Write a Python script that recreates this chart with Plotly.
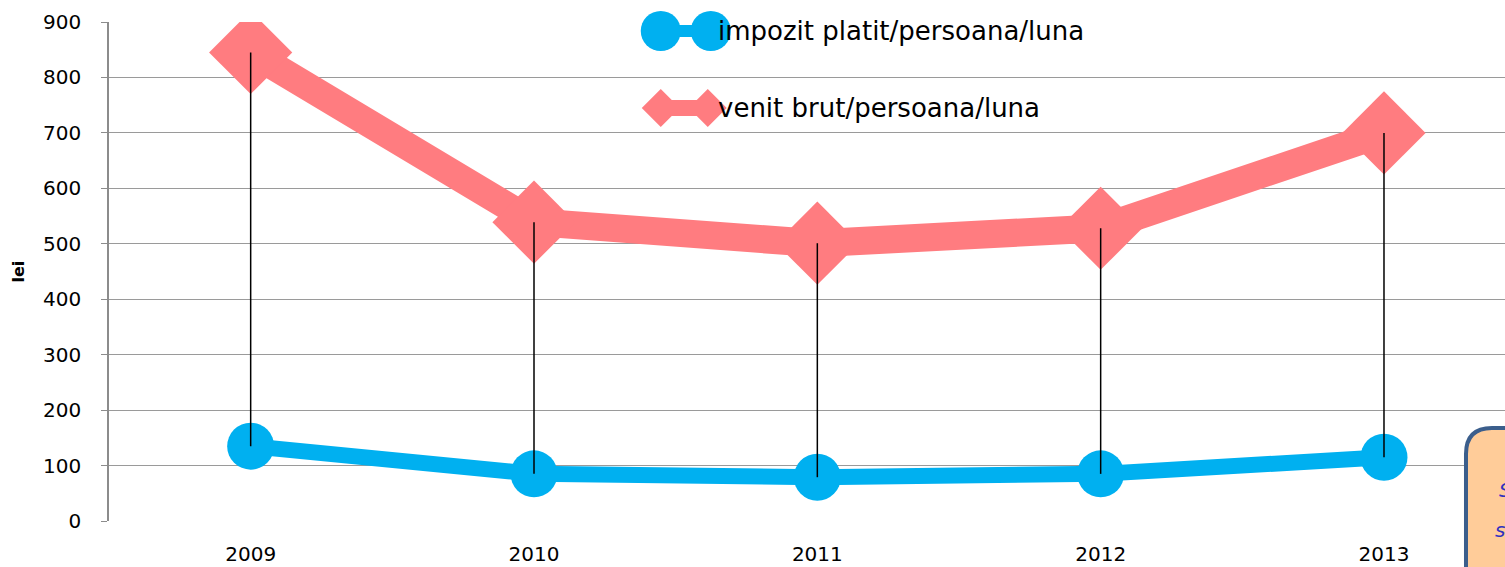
import plotly.graph_objects as go

years = ["2009", "2010", "2011", "2012", "2013"]
impozit = [135, 85, 79, 85, 115]
venit = [845, 539, 501, 528, 700]
yticks = [0, 100, 200, 300, 400, 500, 600, 700, 800, 900]

BLUE = "#00B0F0"
PINK = "#FF7C80"
FONT = "DejaVu Sans, sans-serif"
W, H = 1505, 567
L, R, T, B = 109.4, 0, 22, 46
pw, ph = W - L - R, H - T - B

def px(x):
    return (x - L) / pw

def py(y):
    return (H - B - y) / ph

fig = go.Figure()
fig.add_trace(go.Scatter(x=years, y=venit, mode="lines+markers",
                         line=dict(color=PINK, width=28),
                         marker=dict(symbol="diamond", size=64, color=PINK),
                         name="venit brut/persoana/luna", showlegend=False))
fig.add_trace(go.Scatter(x=years, y=impozit, mode="lines+markers",
                         line=dict(color=BLUE, width=16),
                         marker=dict(symbol="circle", size=47, color=BLUE),
                         name="impozit platit/persoana/luna", showlegend=False))
hx, hy = [], []
for yr, a, b in zip(years, venit, impozit):
    hx += [yr, yr, None]
    hy += [a, b, None]
fig.add_trace(go.Scatter(x=hx, y=hy, mode="lines", line=dict(color="black", width=1.5),
                         showlegend=False, hoverinfo="skip"))

shapes = []
# legend item 1: circles with connecting line
shapes.append(dict(type="line", xref="paper", yref="paper", x0=px(661), x1=px(711), y0=py(31), y1=py(31),
                   line=dict(color=BLUE, width=12)))
for cx in (661, 711):
    shapes.append(dict(type="circle", xref="paper", yref="paper", x0=px(cx - 20), x1=px(cx + 20),
                       y0=py(51), y1=py(11), fillcolor=BLUE, line=dict(width=0)))
# legend item 2: diamonds with connecting line
shapes.append(dict(type="line", xref="paper", yref="paper", x0=px(661), x1=px(708), y0=py(108), y1=py(108),
                   line=dict(color=PINK, width=16)))
for cx in (661, 708):
    d = 19
    path = "M {} {} L {} {} L {} {} L {} {} Z".format(
        px(cx - d), py(108), px(cx), py(108 - d), px(cx + d), py(108), px(cx), py(108 + d))
    shapes.append(dict(type="path", xref="paper", yref="paper", path=path, fillcolor=PINK, line=dict(width=0)))
# orange note box (cropped at right/bottom)
x0, y0, rr = 1466, 428, 26
box = ("M {a} {b} L {a} {c} Q {a} {d} {e} {d} L {f} {d} L {f} {g} Z").format(
    a=px(x0), b=py(600), c=py(y0 + rr), d=py(y0), e=px(x0 + rr), f=px(1560), g=py(600))
shapes.append(dict(type="path", xref="paper", yref="paper", path=box, fillcolor="#FFCC99",
                   line=dict(color="#3B5E8C", width=4), layer="above"))

annotations = [
    dict(text="impozit platit/persoana/luna", xref="paper", yref="paper", x=px(716), y=py(31),
         xanchor="left", yanchor="middle", showarrow=False, font=dict(size=26, color="black")),
    dict(text="venit brut/persoana/luna", xref="paper", yref="paper", x=px(716), y=py(108),
         xanchor="left", yanchor="middle", showarrow=False, font=dict(size=26, color="black")),
    dict(text="<b>lei</b>", xref="paper", yref="paper", x=px(18), y=py(272), textangle=-90,
         xanchor="center", yanchor="middle", showarrow=False, font=dict(size=16, color="black")),
    dict(text="<i>S</i>", xref="paper", yref="paper", x=px(1497), y=py(490),
         xanchor="left", yanchor="middle", showarrow=False, font=dict(size=20, color="#3030C0")),
    dict(text="<i>s</i>", xref="paper", yref="paper", x=px(1493), y=py(530),
         xanchor="left", yanchor="middle", showarrow=False, font=dict(size=20, color="#3030C0")),
]

xmax = -0.5 + pw / 283.25
fig.update_layout(
    width=W, height=H, autosize=False,
    margin=dict(l=L, r=R, t=T, b=B, pad=0, autoexpand=False),
    paper_bgcolor="white", plot_bgcolor="white",
    font=dict(family=FONT, size=20, color="black"),
    shapes=shapes, annotations=annotations,
    xaxis=dict(type="category", range=[-0.5, xmax], showgrid=False, showline=False, automargin=False,
               ticks="outside", ticklen=0, ticklabelstandoff=15, tickfont=dict(size=20)),
    yaxis=dict(range=[0, 900], tickvals=yticks, showgrid=True, gridcolor="#9A9A9A", gridwidth=1.3,
               showline=True, linecolor="#8C8C8C", linewidth=1.5, ticks="outside", ticklen=6, automargin=False,
               tickcolor="#8C8C8C", ticklabelstandoff=16, zeroline=False, tickfont=dict(size=20)),
)
fig.write_html("out.html", config={"displayModeBar": False},
               post_script="document.body.style.margin='0px';document.body.style.overflow='hidden';")
